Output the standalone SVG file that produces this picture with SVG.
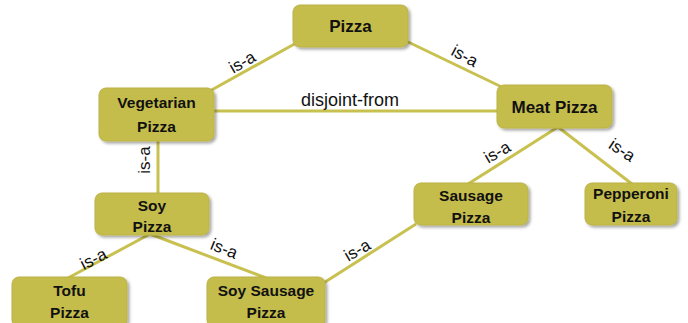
<svg xmlns="http://www.w3.org/2000/svg" width="688" height="323" viewBox="0 0 688 323">
<defs>
<filter id="sh" x="-10%" y="-10%" width="130%" height="140%">
<feDropShadow dx="2" dy="2" stdDeviation="1.5" flood-color="#000" flood-opacity="0.35"/>
</filter>
</defs>
<style>
.n{fill:#c5bd4c;stroke:#bab244;stroke-width:1;filter:url(#sh)}
.t{font-family:"Liberation Sans",Arial,sans-serif;font-weight:bold;font-size:15.5px;fill:#111;text-anchor:middle}
.e{stroke:#c8c150;stroke-width:3;fill:none}
.l{font-family:"Liberation Sans",Arial,sans-serif;font-size:17px;fill:#111;text-anchor:middle}
</style>
<rect width="688" height="323" fill="#fff"/>
<g id="connectors">
<line class="e" x1="298" y1="42" x2="208" y2="92"/>
<line class="e" x1="404" y1="40" x2="508" y2="90"/>
<line class="e" x1="214" y1="111" x2="498" y2="111"/>
<line class="e" x1="158" y1="141" x2="158" y2="194"/>
<line class="e" x1="558" y1="127" x2="468" y2="184"/>
<line class="e" x1="558" y1="127" x2="632" y2="184"/>
<line class="e" x1="150" y1="234" x2="68" y2="278"/>
<line class="e" x1="150" y1="234" x2="266" y2="278"/>
<line class="e" x1="416" y1="224" x2="322" y2="284"/>
<text class="l" transform="translate(245,67) rotate(-30)">is-a</text>
<text class="l" transform="translate(462,61) rotate(28)">is-a</text>
<text class="l" x="350" y="106" style="font-size:18px">disjoint-from</text>
<text class="l" transform="translate(150,160) rotate(-90)">is-a</text>
<text class="l" transform="translate(500,157) rotate(-30)">is-a</text>
<text class="l" transform="translate(619,155) rotate(33)">is-a</text>
<text class="l" transform="translate(96,264) rotate(-27)">is-a</text>
<text class="l" transform="translate(222,254) rotate(22)">is-a</text>
<text class="l" transform="translate(360,255) rotate(-30)">is-a</text>
</g>
<g id="pizza"><rect class="n" x="293" y="5" width="115" height="42" rx="7"/><text class="t" x="350.5" y="32" style="font-size:17px">Pizza</text></g>
<g id="vegetarian"><rect class="n" x="99" y="88" width="115" height="53" rx="7"/><text class="t" x="156.5" y="108">Vegetarian</text><text class="t" x="156.5" y="132">Pizza</text></g>
<g id="meat"><rect class="n" x="497" y="85" width="115" height="43" rx="7"/><text class="t" x="554.5" y="113" style="font-size:17px">Meat Pizza</text></g>
<g id="soy"><rect class="n" x="95" y="193" width="114" height="42" rx="7"/><text class="t" x="152" y="211">Soy</text><text class="t" x="152" y="232">Pizza</text></g>
<g id="sausage"><rect class="n" x="414" y="183" width="114" height="42" rx="7"/><text class="t" x="471" y="201">Sausage</text><text class="t" x="471" y="223">Pizza</text></g>
<g id="pepperoni"><rect class="n" x="585" y="183" width="92" height="42" rx="7"/><text class="t" x="631" y="199">Pepperoni</text><text class="t" x="631" y="222">Pizza</text></g>
<g id="tofu"><rect class="n" x="12" y="277" width="115" height="50" rx="7"/><text class="t" x="69.5" y="296">Tofu</text><text class="t" x="69.5" y="318">Pizza</text></g>
<g id="soysausage"><rect class="n" x="207" y="277" width="118" height="50" rx="7"/><text class="t" x="266" y="296">Soy Sausage</text><text class="t" x="266" y="318">Pizza</text></g>
</svg>
